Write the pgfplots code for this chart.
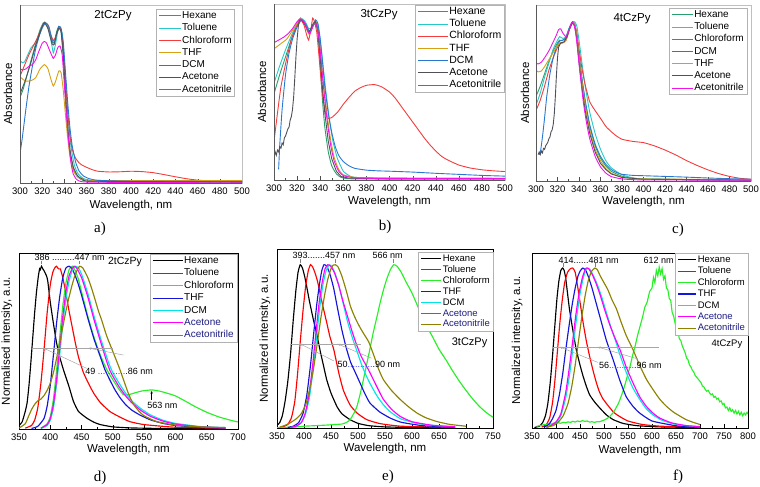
\documentclass[border=0pt]{standalone}
\usepackage{fontspec}
\setmainfont{Liberation Sans}
\newfontfamily\seriffont{Liberation Serif}
\usepackage{pgfplots}
\pgfplotsset{compat=1.18}
\usetikzlibrary{arrows.meta}

\definecolor{hexA}{RGB}{40,160,110}
\definecolor{tolA}{RGB}{40,200,200}
\definecolor{chlA}{RGB}{245,60,60}
\definecolor{thfA}{RGB}{215,160,20}
\definecolor{dcmA}{RGB}{40,120,210}
\definecolor{aceA}{RGB}{80,80,90}
\definecolor{acnA}{RGB}{240,20,230}
\definecolor{hexB}{RGB}{0,0,0}
\definecolor{tolB}{RGB}{255,0,0}
\definecolor{chlB}{RGB}{40,240,40}
\definecolor{thfB}{RGB}{20,20,220}
\definecolor{dcmB}{RGB}{0,230,230}
\definecolor{aceB}{RGB}{255,0,255}
\definecolor{acnB}{RGB}{140,130,0}
\definecolor{navyT}{RGB}{30,30,130}

\def\leglen{22pt}
\tikzset{ann/.style={font=\fontsize{9}{10}\selectfont, inner sep=0.5pt}}
\pgfplotsset{legend image code/.code={\draw[#1] (0pt,0pt) -- (\leglen,0pt);}}
\pgfplotsset{
 common/.style={scale only axis, clip mode=individual,
   /pgf/number format/assume math mode=true,
   ytick=\empty, xtick pos=left, minor x tick num=1,
   tick label style={font=\fontsize{9.5}{10}\selectfont},
   xticklabel style={yshift=-1.5pt},
   label style={font=\fontsize{11.5}{12}\selectfont},
   major tick length=4pt, minor tick length=2pt,
   legend cell align=left,
   legend style={draw=gray!60, inner xsep=2pt, inner ysep=1pt,
     nodes={inner sep=1pt, text height=7.3pt, text depth=2pt}},
   ymin=0, ymax=1, xlabel={Wavelength, nm}},
 absax/.style={common, xmin=300, xmax=500, xtick={300,320,...,500},
   axis line style={draw=gray!50, line width=0.6pt}, tick style={black!70},
   every axis plot/.append style={line width=0.9pt, smooth, tension=0.3},
   ylabel=Absorbance},
 plax/.style={common, axis line style={draw=black, line width=0.6pt}, tick style={black},
   every axis plot/.append style={line width=1.15pt, smooth, tension=0.3}},
}

\begin{document}
\begin{tikzpicture}
\useasboundingbox (0,0) rectangle (760pt,487pt);

%% ---------------- a ----------------
\def\leglen{22pt}
\begin{axis}[absax, at={(20pt,304pt)}, anchor=south west, width=222pt, height=178pt,
  legend style={at={(0.968,0.978)}, anchor=north east, font=\fontsize{10}{12}\selectfont, row sep=1pt},
  ylabel style={at={(rel axis cs:-0.054,0.5)},anchor=center},
  xlabel style={at={(rel axis cs:0.5,-0.124)},anchor=center}]
\addplot[hexA] coordinates {(300,0.48)(303,0.53)(306,0.60)(310,0.69)(314,0.78)(318,0.86)(321,0.90)(323,0.90)(326,0.86)(329,0.79)(331,0.79)(333,0.85)(335,0.88)(337,0.85)(339,0.70)(341,0.48)(343,0.30)(345,0.17)(348,0.08)(351,0.04)(355,0.02)(360,0.01)(380,0.006)(420,0.006)(460,0.006)(500,0.006)};
\addlegendentry{Hexane}
\addplot[tolA] coordinates {(300,0.69)(302,0.675)(304,0.68)(307,0.72)(310,0.76)(313,0.78)(316,0.80)(319,0.87)(322,0.905)(325,0.88)(328,0.80)(330,0.73)(332,0.78)(334,0.85)(336,0.87)(338,0.84)(340,0.66)(342,0.47)(344,0.31)(346,0.20)(349,0.10)(352,0.055)(356,0.03)(360,0.018)(370,0.01)(400,0.007)(500,0.006)};
\addlegendentry{Toluene}
\addplot[chlA] coordinates {(300,0.60)(304,0.66)(308,0.72)(312,0.77)(316,0.82)(320,0.88)(322,0.90)(325,0.89)(328,0.83)(330,0.80)(332,0.82)(335,0.87)(337,0.86)(339,0.76)(341,0.58)(343,0.40)(345,0.27)(347,0.19)(350,0.14)(353,0.115)(356,0.10)(360,0.088)(365,0.075)(370,0.066)(380,0.062)(390,0.063)(400,0.066)(410,0.064)(420,0.058)(430,0.047)(440,0.035)(450,0.024)(460,0.016)(470,0.012)(480,0.011)(500,0.01)};
\addlegendentry{Chloroform}
\addplot[thfA] coordinates {(300,0.597)(303,0.58)(306,0.572)(310,0.575)(314,0.59)(318,0.64)(322,0.665)(325,0.645)(328,0.58)(330,0.545)(332,0.57)(335,0.63)(337,0.62)(339,0.52)(341,0.38)(343,0.25)(345,0.15)(348,0.07)(352,0.035)(357,0.02)(365,0.015)(400,0.013)(450,0.013)(500,0.013)};
\addlegendentry{THF}
\addplot[dcmA] coordinates {(300,0.165)(302,0.25)(305,0.40)(308,0.54)(311,0.65)(314,0.75)(317,0.82)(320,0.87)(323,0.90)(326,0.88)(329,0.80)(331,0.79)(333,0.84)(335,0.88)(337,0.87)(339,0.79)(341,0.62)(343,0.45)(345,0.31)(347,0.21)(350,0.12)(353,0.07)(357,0.04)(362,0.025)(370,0.015)(400,0.01)(500,0.008)};
\addlegendentry{DCM}
\addplot[aceA] coordinates {(300,0.50)(305,0.58)(310,0.68)(315,0.79)(320,0.88)(322,0.90)(325,0.87)(329,0.78)(331,0.78)(333,0.84)(335,0.87)(337,0.85)(339,0.72)(341,0.50)(343,0.32)(345,0.19)(348,0.09)(352,0.04)(357,0.02)(365,0.01)(500,0.005)};
\addlegendentry{Acetone}
\addplot[acnA] coordinates {(300,0.643)(302,0.635)(305,0.64)(308,0.655)(311,0.665)(314,0.69)(317,0.74)(320,0.785)(322,0.795)(324,0.785)(327,0.74)(330,0.70)(332,0.72)(334,0.76)(336,0.77)(338,0.72)(340,0.55)(342,0.37)(344,0.22)(346,0.11)(348,0.05)(351,0.02)(355,0.008)(370,0.004)(500,0.004)};
\addlegendentry{Acetonitrile}
\draw[black!65, line width=0.7pt] (rel axis cs:0,1) -- (rel axis cs:0,0) -- (rel axis cs:1,0);
\node[font=\fontsize{11.5}{12}\selectfont] at (rel axis cs:0.419,0.94) {2tCzPy};
\end{axis}

%% ---------------- b ----------------
\def\leglen{30pt}
\begin{axis}[absax, at={(274pt,307pt)}, anchor=south west, width=231pt, height=176pt,
  legend style={at={(0.998,0.994)}, anchor=north east, font=\fontsize{10.5}{12}\selectfont, row sep=0.9pt},
  ylabel style={at={(rel axis cs:-0.052,0.5)},anchor=center},
  xlabel style={at={(rel axis cs:0.5,-0.125)},anchor=center}]
\addplot[hexA] coordinates {(300,0.49)(305,0.60)(310,0.70)(315,0.80)(320,0.88)(323,0.92)(326,0.90)(329,0.85)(331,0.84)(333,0.87)(336,0.89)(338,0.84)(340,0.65)(342,0.45)(344,0.30)(347,0.16)(350,0.08)(354,0.035)(358,0.015)(365,0.007)(400,0.005)(500,0.005)};
\addlegendentry{Hexane}
\addplot[tolA] coordinates {(300,0.55)(305,0.65)(310,0.74)(315,0.82)(320,0.89)(323,0.92)(327,0.90)(330,0.86)(332,0.86)(336,0.90)(338,0.88)(340,0.80)(342,0.68)(345,0.50)(348,0.34)(351,0.22)(355,0.12)(360,0.05)(365,0.025)(370,0.015)(400,0.01)(500,0.01)};
\addlegendentry{Toluene}
\addplot[chlA] coordinates {(300,0.22)(303,0.38)(306,0.53)(310,0.66)(315,0.80)(320,0.88)(323,0.91)(326,0.88)(328,0.83)(330,0.795)(332,0.86)(333.5,0.92)(335,0.90)(337,0.84)(339,0.70)(341,0.55)(343,0.44)(345,0.37)(347,0.35)(350,0.355)(355,0.385)(360,0.43)(365,0.47)(370,0.505)(375,0.525)(380,0.538)(387,0.542)(393,0.53)(400,0.50)(405,0.465)(410,0.42)(415,0.375)(420,0.33)(425,0.285)(430,0.24)(435,0.20)(440,0.165)(445,0.135)(450,0.115)(460,0.085)(470,0.068)(480,0.058)(490,0.052)(500,0.048)};
\addlegendentry{Chloroform}
\addplot[thfA] coordinates {(300,0.745)(303,0.76)(307,0.78)(311,0.80)(315,0.84)(319,0.88)(322,0.915)(325,0.91)(328,0.86)(330,0.83)(332,0.85)(335,0.90)(337,0.89)(339,0.82)(341,0.68)(343,0.54)(346,0.37)(349,0.23)(352,0.13)(356,0.06)(360,0.03)(370,0.015)(400,0.012)(500,0.01)};
\addlegendentry{THF}
\addplot[dcmA] coordinates {(304,0.06)(305,0.20)(307,0.40)(310,0.60)(313,0.72)(316,0.80)(320,0.87)(324,0.91)(328,0.88)(331,0.84)(334,0.88)(336,0.91)(338,0.89)(340,0.80)(342,0.67)(344,0.53)(347,0.38)(350,0.27)(353,0.19)(356,0.14)(360,0.105)(365,0.08)(370,0.066)(380,0.056)(390,0.052)(400,0.05)(420,0.045)(440,0.038)(460,0.032)(480,0.026)(500,0.022)};
\addlegendentry{DCM}
\addplot[aceA, sharp plot] coordinates {(300,0.13)(301,0.16)(302,0.14)(303,0.17)(304,0.16)(305,0.19)(306,0.18)(307,0.21)(308,0.20)(309,0.24)(310,0.25)(311,0.27)(312,0.29)(313,0.30)(314,0.34)(315,0.36)(316,0.40)(317,0.47)(318,0.58)(319,0.70)(320,0.80)(321,0.87)(322,0.91)(324,0.91)(327,0.88)(330,0.84)(332,0.86)(334,0.89)(336,0.90)(338,0.85)(340,0.70)(342,0.52)(344,0.38)(347,0.22)(350,0.12)(354,0.05)(358,0.02)(365,0.01)(400,0.008)(500,0.008)};
\addlegendentry{Acetone}
\addplot[acnA] coordinates {(300,0.78)(304,0.795)(308,0.81)(312,0.83)(316,0.86)(320,0.90)(323,0.915)(326,0.90)(329,0.85)(331,0.83)(333,0.86)(335,0.89)(337,0.88)(339,0.80)(341,0.66)(343,0.52)(346,0.34)(349,0.20)(352,0.11)(356,0.05)(360,0.025)(370,0.012)(400,0.008)(500,0.008)};
\addlegendentry{Acetonitrile}
\draw[black!65, line width=0.7pt] (rel axis cs:0,1) -- (rel axis cs:0,0) -- (rel axis cs:1,0);
\node[font=\fontsize{11.5}{12}\selectfont] at (rel axis cs:0.455,0.9375) {3tCzPy};
\end{axis}

%% ---------------- c ----------------
\def\leglen{21pt}
\begin{axis}[absax, at={(536pt,306pt)}, anchor=south west, width=215pt, height=176pt,
  legend style={at={(0.981,0.983)}, anchor=north east, font=\fontsize{10}{12}\selectfont, row sep=0.9pt},
  ylabel style={at={(rel axis cs:-0.051,0.5)},anchor=center},
  xlabel style={at={(rel axis cs:0.5,-0.114)},anchor=center}]
\addplot[hexA] coordinates {(300,0.48)(304,0.54)(308,0.61)(312,0.68)(316,0.74)(320,0.785)(322,0.80)(325,0.80)(328,0.82)(331,0.87)(334,0.905)(336,0.89)(338,0.83)(340,0.72)(343,0.57)(346,0.44)(350,0.31)(355,0.20)(360,0.13)(365,0.085)(370,0.055)(380,0.027)(390,0.016)(400,0.012)(450,0.007)(500,0.005)};
\addlegendentry{Hexane}
\addplot[tolA] coordinates {(300,0.43)(304,0.50)(308,0.59)(312,0.67)(316,0.75)(320,0.80)(322,0.82)(325,0.81)(328,0.82)(331,0.87)(334,0.90)(336,0.905)(338,0.88)(340,0.80)(343,0.66)(346,0.53)(350,0.39)(355,0.27)(360,0.18)(365,0.115)(370,0.075)(380,0.035)(390,0.018)(400,0.012)(450,0.007)(500,0.005)};
\addlegendentry{Toluene}
\addplot[chlA] coordinates {(300,0.40)(304,0.46)(308,0.54)(312,0.63)(316,0.70)(320,0.76)(322,0.78)(325,0.785)(328,0.80)(331,0.86)(334,0.905)(336,0.89)(338,0.84)(340,0.75)(343,0.63)(346,0.54)(350,0.45)(355,0.40)(360,0.356)(365,0.31)(370,0.28)(375,0.255)(380,0.237)(390,0.225)(400,0.218)(410,0.20)(420,0.176)(430,0.148)(440,0.116)(450,0.088)(460,0.063)(470,0.042)(480,0.026)(490,0.015)(500,0.01)};
\addlegendentry{Chloroform}
\addplot[dcmA] coordinates {(303,0.15)(304,0.16)(306,0.25)(308,0.36)(310,0.48)(313,0.61)(316,0.70)(319,0.76)(322,0.795)(325,0.80)(328,0.815)(331,0.87)(334,0.905)(336,0.89)(338,0.82)(340,0.71)(343,0.57)(346,0.45)(350,0.32)(355,0.21)(360,0.14)(365,0.095)(370,0.065)(375,0.048)(380,0.038)(390,0.032)(400,0.03)(420,0.026)(440,0.022)(460,0.017)(480,0.013)(500,0.01)};
\addlegendentry{DCM}
\addplot[thfA] coordinates {(300,0.63)(302,0.62)(305,0.625)(308,0.65)(312,0.69)(316,0.73)(320,0.77)(322,0.785)(325,0.785)(328,0.80)(331,0.86)(334,0.90)(336,0.89)(338,0.82)(340,0.70)(343,0.55)(346,0.42)(350,0.29)(355,0.18)(360,0.115)(365,0.07)(370,0.045)(380,0.022)(400,0.012)(500,0.008)};
\addlegendentry{THF}
\addplot[aceA, sharp plot] coordinates {(302,0.15)(303,0.165)(304,0.15)(305,0.17)(306,0.16)(307,0.185)(308,0.18)(309,0.20)(310,0.21)(311,0.22)(312,0.24)(313,0.25)(314,0.28)(315,0.29)(316,0.32)(317,0.38)(318,0.48)(319,0.60)(320,0.70)(321,0.76)(323,0.785)(326,0.79)(329,0.82)(331,0.86)(334,0.90)(336,0.88)(338,0.80)(340,0.67)(343,0.52)(346,0.39)(350,0.27)(355,0.165)(360,0.10)(365,0.065)(370,0.04)(380,0.02)(400,0.01)(500,0.005)};
\addlegendentry{Acetone}
\addplot[acnA] coordinates {(300,0.67)(302,0.665)(305,0.675)(308,0.70)(312,0.74)(316,0.79)(319,0.83)(321,0.86)(323,0.865)(325,0.84)(328,0.82)(331,0.86)(333,0.90)(335,0.895)(337,0.84)(339,0.73)(341,0.61)(344,0.45)(347,0.33)(350,0.24)(355,0.14)(360,0.08)(365,0.045)(370,0.025)(380,0.012)(400,0.006)(500,0.005)};
\addlegendentry{Acetonitrile}
\draw[black!65, line width=0.7pt] (rel axis cs:0,1) -- (rel axis cs:0,0) -- (rel axis cs:1,0);
\node[font=\fontsize{11.5}{12}\selectfont] at (rel axis cs:0.447,0.924) {4tCzPy};
\end{axis}

%% ---------------- d ----------------
\def\leglen{30pt}
\begin{axis}[plax, at={(19pt,58pt)}, anchor=south west, width=219pt, height=176pt,
  xmin=350, xmax=700, xtick={350,400,...,700},
  legend style={at={(0.995,0.994)}, anchor=north east, font=\fontsize{10}{12}\selectfont, row sep=1.1pt},
  ylabel={Normalised intensity, a.u.},
  ylabel style={at={(rel axis cs:-0.055,0.5)},anchor=center},
  xlabel style={at={(rel axis cs:0.5,-0.114)},anchor=center}]
\addplot[hexB] coordinates {(350,0.02)(355,0.04)(360,0.10)(363,0.15)(366,0.25)(369,0.38)(372,0.52)(375,0.66)(378,0.78)(381,0.87)(383,0.91)(384,0.905)(386,0.925)(388,0.91)(390,0.90)(392,0.885)(394,0.87)(396,0.84)(400,0.72)(405,0.60)(410,0.49)(415,0.41)(421,0.337)(430,0.24)(437,0.157)(445,0.10)(458,0.0625)(470,0.038)(480,0.025)(500,0.012)(530,0.006)(580,0.003)(680,0.002)};
\addlegendentry{Hexane}
\addplot[tolB] coordinates {(360,0.005)(370,0.02)(375,0.05)(380,0.12)(385,0.26)(390,0.45)(395,0.66)(400,0.82)(404,0.89)(407,0.915)(410,0.925)(413,0.91)(416,0.91)(420,0.86)(425,0.77)(430,0.67)(435,0.58)(440,0.49)(445,0.41)(453,0.32)(463,0.245)(470,0.20)(480,0.15)(495,0.10)(510,0.07)(527,0.042)(550,0.025)(600,0.01)(680,0.004)};
\addlegendentry{Toluene}
\addplot[chlB] coordinates {(385,0.005)(395,0.03)(400,0.07)(405,0.17)(410,0.33)(415,0.52)(420,0.70)(425,0.83)(430,0.905)(435,0.925)(440,0.90)(445,0.85)(450,0.78)(460,0.64)(470,0.52)(480,0.42)(490,0.34)(500,0.28)(510,0.225)(517,0.195)(525,0.195)(535,0.205)(545,0.215)(555,0.22)(563,0.222)(575,0.215)(590,0.20)(600,0.188)(615,0.16)(630,0.13)(650,0.095)(670,0.068)(690,0.048)(700,0.04)};
\addlegendentry{Chloroform}
\addplot[thfB] coordinates {(370,0.003)(380,0.015)(390,0.06)(395,0.13)(400,0.25)(405,0.42)(410,0.60)(415,0.75)(420,0.86)(425,0.915)(430,0.925)(435,0.91)(440,0.87)(445,0.82)(450,0.76)(460,0.63)(470,0.51)(480,0.41)(487,0.34)(495,0.28)(503,0.225)(511,0.18)(520,0.14)(530,0.108)(543,0.08)(560,0.052)(580,0.032)(600,0.02)(640,0.01)(680,0.005)};
\addlegendentry{THF}
\addplot[dcmB] coordinates {(385,0.003)(395,0.02)(400,0.05)(405,0.12)(410,0.25)(415,0.42)(420,0.60)(425,0.74)(430,0.84)(435,0.90)(440,0.925)(445,0.915)(450,0.88)(460,0.77)(470,0.64)(480,0.52)(490,0.41)(495,0.36)(500,0.32)(510,0.26)(520,0.205)(530,0.16)(545,0.115)(560,0.08)(580,0.05)(600,0.032)(640,0.014)(680,0.008)};
\addlegendentry{DCM}
\addplot[aceB] coordinates {(385,0.004)(395,0.025)(400,0.06)(405,0.14)(410,0.28)(415,0.46)(420,0.64)(425,0.78)(430,0.87)(435,0.91)(438,0.925)(442,0.915)(450,0.86)(460,0.75)(470,0.62)(480,0.50)(490,0.385)(495,0.335)(500,0.30)(510,0.24)(520,0.19)(530,0.15)(545,0.105)(560,0.072)(580,0.045)(600,0.028)(640,0.012)(680,0.007)};
\addlegendentry{\textcolor{navyT}{Acetone}}
\addplot[acnB] coordinates {(350,0.005)(360,0.03)(365,0.07)(370,0.11)(375,0.14)(380,0.16)(385,0.17)(390,0.19)(395,0.22)(400,0.26)(405,0.32)(410,0.40)(415,0.49)(420,0.58)(425,0.67)(430,0.75)(435,0.82)(440,0.88)(444,0.91)(447,0.925)(452,0.915)(460,0.86)(466,0.80)(472,0.73)(477,0.67)(482,0.62)(490,0.53)(500,0.44)(510,0.35)(517,0.28)(525,0.20)(533,0.14)(542,0.10)(550,0.075)(570,0.042)(600,0.022)(640,0.012)(680,0.008)};
\addlegendentry{\textcolor{navyT}{Acetonitrile}}
\node[ann] at (axis cs:431,0.977) {386 .........447 nm};
\draw[gray] (axis cs:386,0.955) -- (axis cs:386,0.935);
\draw[gray] (axis cs:447,0.955) -- (axis cs:447,0.935);
\node[font=\fontsize{10.5}{12}\selectfont, anchor=east] at (axis cs:552,0.952) {2tCzPy};
\draw[gray!70, line width=0.5pt] (axis cs:370,0.46) -- (axis cs:500,0.46);
\draw[gray!70, line width=0.5pt, {Stealth[length=3pt,width=2.5pt]}-] (axis cs:389,0.46) -- (axis cs:458,0.345);
\draw[gray!70, line width=0.5pt, {Stealth[length=3pt,width=2.5pt]}-] (axis cs:461,0.46) -- (axis cs:517,0.42);
\node[ann] at (axis cs:510,0.328) {49 \textcolor{blue!80}{...........}.86 nm};
\node[ann] at (axis cs:579,0.132) {563 nm};
\draw[-{Stealth[length=2.5pt,width=2.5pt]}, line width=0.5pt] (axis cs:562,0.165) -- (axis cs:562,0.215);
\end{axis}

%% ---------------- e ----------------
\def\leglen{20pt}
\begin{axis}[plax, at={(277pt,59pt)}, anchor=south west, width=216pt, height=179pt,
  xmin=350, xmax=750, xtick={350,400,...,750},
  legend style={at={(1,0.983)}, anchor=north east, font=\fontsize{9.5}{11}\selectfont, row sep=-0.4pt},
  ylabel={Normalized intensity, a.u.},
  ylabel style={at={(rel axis cs:-0.056,0.5)},anchor=center},
  xlabel style={at={(rel axis cs:0.5,-0.117)},anchor=center}]
\addplot[hexB] coordinates {(350,0.015)(355,0.03)(360,0.07)(365,0.15)(370,0.26)(375,0.41)(380,0.60)(385,0.77)(389,0.87)(393,0.912)(397,0.895)(401,0.85)(405,0.79)(410,0.71)(417,0.61)(424,0.52)(430,0.43)(436,0.35)(442,0.27)(450,0.195)(461,0.12)(470,0.08)(485,0.047)(500,0.026)(520,0.013)(550,0.006)(600,0.003)(680,0.001)};
\addlegendentry{Hexane}
\addplot[tolB] coordinates {(360,0.005)(370,0.02)(377,0.06)(383,0.15)(388,0.30)(393,0.48)(398,0.65)(403,0.79)(408,0.88)(412,0.912)(416,0.90)(420,0.87)(425,0.82)(430,0.75)(435,0.68)(442,0.59)(448,0.51)(455,0.44)(460,0.37)(465,0.30)(473,0.21)(485,0.13)(498,0.084)(516,0.047)(540,0.025)(580,0.01)(680,0.003)};
\addlegendentry{Toluene}
\addplot[chlB] coordinates {(350,0.002)(380,0.005)(400,0.01)(420,0.013)(440,0.016)(460,0.02)(470,0.022)(478,0.03)(485,0.045)(492,0.08)(498,0.12)(504,0.19)(510,0.27)(516,0.355)(522,0.44)(528,0.53)(535,0.62)(541,0.70)(547,0.77)(553,0.83)(560,0.885)(566,0.912)(572,0.905)(580,0.87)(590,0.81)(600,0.754)(612,0.67)(625,0.58)(638,0.51)(650,0.44)(663,0.38)(675,0.32)(688,0.26)(700,0.21)(713,0.16)(725,0.12)(738,0.085)(750,0.06)};
\addlegendentry{Chloroform}
\addplot[thfB] coordinates {(370,0.003)(380,0.01)(390,0.03)(398,0.08)(405,0.18)(412,0.35)(418,0.53)(424,0.70)(429,0.81)(433,0.88)(437,0.912)(442,0.905)(448,0.86)(455,0.78)(462,0.67)(470,0.55)(478,0.45)(486,0.37)(495,0.31)(504,0.25)(513,0.19)(522,0.14)(540,0.09)(560,0.055)(580,0.032)(620,0.013)(680,0.005)};
\addlegendentry{THF}
\addplot[dcmB] coordinates {(375,0.003)(385,0.01)(395,0.03)(403,0.08)(410,0.17)(417,0.33)(423,0.50)(429,0.67)(435,0.80)(441,0.88)(447,0.912)(452,0.90)(458,0.86)(465,0.79)(473,0.69)(481,0.59)(490,0.50)(498,0.43)(506,0.36)(514,0.30)(522,0.25)(535,0.18)(547,0.13)(560,0.09)(580,0.05)(620,0.02)(680,0.007)};
\addlegendentry{DCM}
\addplot[aceB] coordinates {(375,0.003)(385,0.01)(395,0.03)(402,0.08)(409,0.18)(416,0.35)(422,0.53)(428,0.70)(434,0.82)(439,0.89)(444,0.912)(449,0.905)(456,0.87)(464,0.80)(472,0.71)(481,0.62)(490,0.53)(498,0.46)(506,0.40)(514,0.355)(522,0.31)(535,0.23)(547,0.16)(562,0.105)(578,0.065)(600,0.035)(640,0.014)(680,0.007)};
\addlegendentry{\textcolor{navyT}{Acetone}}
\addplot[acnB] coordinates {(355,0.005)(365,0.015)(375,0.03)(385,0.05)(395,0.08)(403,0.13)(410,0.21)(417,0.32)(424,0.46)(431,0.61)(438,0.74)(444,0.83)(450,0.89)(454,0.91)(458,0.912)(463,0.90)(470,0.85)(478,0.77)(486,0.68)(494,0.62)(504,0.56)(512,0.52)(520,0.48)(530,0.40)(538,0.33)(547,0.27)(562,0.21)(578,0.16)(593,0.12)(609,0.084)(625,0.058)(645,0.037)(670,0.02)(700,0.01)};
\addlegendentry{\textcolor{navyT}{Acetonitrile}}
\node[ann] at (axis cs:437,0.963) {393.......457 nm};
\draw[gray] (axis cs:393,0.942) -- (axis cs:393,0.922);
\draw[gray] (axis cs:457,0.942) -- (axis cs:457,0.922);
\node[ann] at (axis cs:555,0.963) {566 nm};
\draw[gray] (axis cs:566,0.942) -- (axis cs:566,0.922);
\draw[gray!70, line width=0.5pt] (axis cs:374,0.47) -- (axis cs:505,0.47);
\draw[gray!70, line width=0.5pt, {Stealth[length=3pt,width=2.5pt]}-] (axis cs:393,0.47) -- (axis cs:455,0.375);
\draw[gray!70, line width=0.5pt, {Stealth[length=3pt,width=2.5pt]}-] (axis cs:462,0.47) -- (axis cs:525,0.39);
\node[ann] at (axis cs:520,0.355) {50\textcolor{blue!80}{..........}.90 nm};
\node[font=\fontsize{11}{12}\selectfont, anchor=east] at (rel axis cs:0.99,0.475) {3tCzPy};
\end{axis}

%% ---------------- f ----------------
\def\leglen{18pt}
\begin{axis}[plax, at={(532pt,59pt)}, anchor=south west, width=216pt, height=175pt,
  xmin=350, xmax=800, xtick={350,400,...,800},
  legend style={at={(1,1)}, anchor=north east, font=\fontsize{9.5}{11}\selectfont, row sep=0.1pt},
  ylabel={Normalized intensity, a.u.},
  ylabel style={at={(rel axis cs:-0.069,0.5)},anchor=center},
  xlabel style={at={(rel axis cs:0.5,-0.131)},anchor=center}]
\addplot[hexB] coordinates {(355,0.003)(365,0.01)(372,0.03)(378,0.07)(383,0.14)(388,0.26)(393,0.42)(398,0.60)(402,0.74)(406,0.84)(410,0.90)(414,0.914)(417,0.90)(420,0.86)(424,0.77)(428,0.68)(435,0.56)(442,0.45)(450,0.36)(456,0.30)(463,0.24)(470,0.19)(480,0.15)(491,0.115)(505,0.075)(519,0.048)(540,0.026)(570,0.013)(620,0.006)(700,0.003)};
\addlegendentry{Hexane}
\addplot[tolB] coordinates {(370,0.005)(380,0.02)(387,0.06)(393,0.15)(398,0.28)(403,0.44)(408,0.60)(413,0.73)(418,0.83)(424,0.89)(430,0.91)(435,0.914)(440,0.89)(445,0.81)(450,0.72)(456,0.61)(463,0.50)(470,0.41)(477,0.33)(484,0.26)(490,0.21)(497,0.17)(505,0.14)(520,0.09)(533,0.065)(550,0.04)(580,0.02)(620,0.01)(700,0.004)};
\addlegendentry{Toluene}
\addplot[chlB, sharp plot] coordinates {(360,0.01)(370,0.015)(375,0.02)(380,0.018)(385,0.025)(390,0.022)(395,0.028)(400,0.025)(405,0.03)(410,0.027)(415,0.033)(420,0.03)(425,0.035)(430,0.032)(435,0.038)(440,0.034)(445,0.04)(450,0.036)(455,0.042)(460,0.038)(465,0.04)(470,0.034)(475,0.036)(480,0.032)(485,0.036)(490,0.035)(495,0.04)(500,0.045)(505,0.052)(510,0.06)(515,0.075)(520,0.09)(525,0.115)(530,0.14)(535,0.175)(540,0.215)(545,0.26)(550,0.31)(555,0.36)(560,0.42)(565,0.47)(570,0.53)(575,0.58)(580,0.63)(585,0.69)(590,0.72)(595,0.78)(600,0.80)(603,0.86)(606,0.83)(609,0.90)(612,0.87)(615,0.92)(618,0.88)(621,0.91)(624,0.85)(627,0.87)(630,0.80)(633,0.79)(636,0.74)(639,0.73)(642,0.66)(645,0.64)(648,0.60)(651,0.57)(654,0.55)(657,0.51)(660,0.50)(663,0.47)(666,0.45)(669,0.43)(672,0.40)(675,0.39)(678,0.36)(681,0.35)(684,0.33)(687,0.32)(690,0.30)(693,0.29)(696,0.28)(699,0.27)(702,0.26)(705,0.24)(708,0.235)(711,0.22)(714,0.21)(717,0.215)(720,0.20)(723,0.19)(726,0.195)(729,0.175)(732,0.18)(735,0.165)(738,0.17)(741,0.15)(744,0.155)(747,0.135)(750,0.14)(753,0.115)(756,0.12)(759,0.10)(762,0.115)(765,0.095)(768,0.105)(771,0.085)(774,0.10)(777,0.08)(780,0.095)(783,0.075)(786,0.09)(789,0.07)(792,0.085)(795,0.075)(798,0.09)(800,0.08)};
\addlegendentry{Chloroform}
\addplot[thfB] coordinates {(375,0.005)(385,0.02)(392,0.05)(400,0.10)(407,0.19)(414,0.31)(420,0.44)(427,0.58)(434,0.71)(440,0.80)(446,0.87)(451,0.90)(456,0.914)(462,0.90)(468,0.86)(475,0.80)(485,0.70)(495,0.60)(505,0.50)(519,0.39)(532,0.28)(546,0.18)(560,0.125)(574,0.086)(600,0.04)(650,0.013)(700,0.004)};
\addlegendentry{THF}
\addplot[dcmB] coordinates {(380,0.005)(390,0.015)(400,0.03)(410,0.07)(420,0.17)(428,0.30)(435,0.45)(442,0.61)(449,0.75)(456,0.85)(461,0.895)(466,0.914)(471,0.905)(478,0.87)(486,0.82)(495,0.75)(505,0.66)(515,0.57)(525,0.49)(533,0.42)(546,0.32)(560,0.23)(574,0.165)(588,0.11)(602,0.075)(620,0.045)(650,0.02)(700,0.006)};
\addlegendentry{DCM}
\addplot[aceB] coordinates {(380,0.005)(390,0.015)(400,0.035)(410,0.08)(420,0.20)(427,0.33)(434,0.48)(441,0.64)(448,0.77)(455,0.86)(460,0.90)(463,0.914)(468,0.91)(475,0.88)(483,0.83)(492,0.76)(502,0.67)(512,0.59)(522,0.52)(533,0.45)(546,0.35)(560,0.26)(574,0.18)(588,0.124)(602,0.085)(616,0.057)(640,0.03)(670,0.014)(700,0.008)};
\addlegendentry{\textcolor{navyT}{Acetone}}
\addplot[acnB] coordinates {(380,0.003)(395,0.015)(405,0.035)(415,0.07)(425,0.14)(433,0.24)(440,0.36)(447,0.50)(454,0.64)(461,0.76)(467,0.84)(473,0.89)(477,0.905)(481,0.914)(486,0.905)(492,0.87)(500,0.83)(508,0.79)(517,0.73)(526,0.68)(535,0.61)(546,0.53)(560,0.45)(574,0.36)(588,0.28)(602,0.22)(616,0.165)(630,0.124)(645,0.09)(660,0.065)(671,0.048)(685,0.033)(700,0.02)};
\addlegendentry{\textcolor{navyT}{Acetonitrile}}
\node[ann] at (axis cs:468,0.958) {414......481 nm};
\draw[gray] (axis cs:414,0.94) -- (axis cs:414,0.922);
\draw[gray] (axis cs:481,0.94) -- (axis cs:481,0.922);
\node[ann] at (axis cs:614,0.958) {612 nm};
\draw[gray!70, line width=0.5pt] (axis cs:394,0.463) -- (axis cs:615,0.463);
\draw[gray!70, line width=0.5pt, {Stealth[length=3pt,width=2.5pt]}-] (axis cs:408,0.463) -- (axis cs:487,0.375);
\draw[gray!70, line width=0.5pt, {Stealth[length=3pt,width=2.5pt]}-] (axis cs:487,0.463) -- (axis cs:571,0.394);
\node[ann] at (axis cs:555,0.358) {56\textcolor{blue!80}{..........}.96 nm};
\node[font=\fontsize{9.5}{10}\selectfont, anchor=east] at (rel axis cs:0.99,0.48) {4tCzPy};
\end{axis}

\node[font=\seriffont\fontsize{15}{15}\selectfont] at (100pt,258pt) {a)};
\node[font=\seriffont\fontsize{15}{15}\selectfont] at (385pt,260pt) {b)};
\node[font=\seriffont\fontsize{15}{15}\selectfont] at (678pt,257pt) {c)};
\node[font=\seriffont\fontsize{15}{15}\selectfont] at (100pt,9pt) {d)};
\node[font=\seriffont\fontsize{15}{15}\selectfont] at (388pt,10pt) {e)};
\node[font=\seriffont\fontsize{15}{15}\selectfont] at (678pt,10pt) {f)};
\end{tikzpicture}
\end{document}
